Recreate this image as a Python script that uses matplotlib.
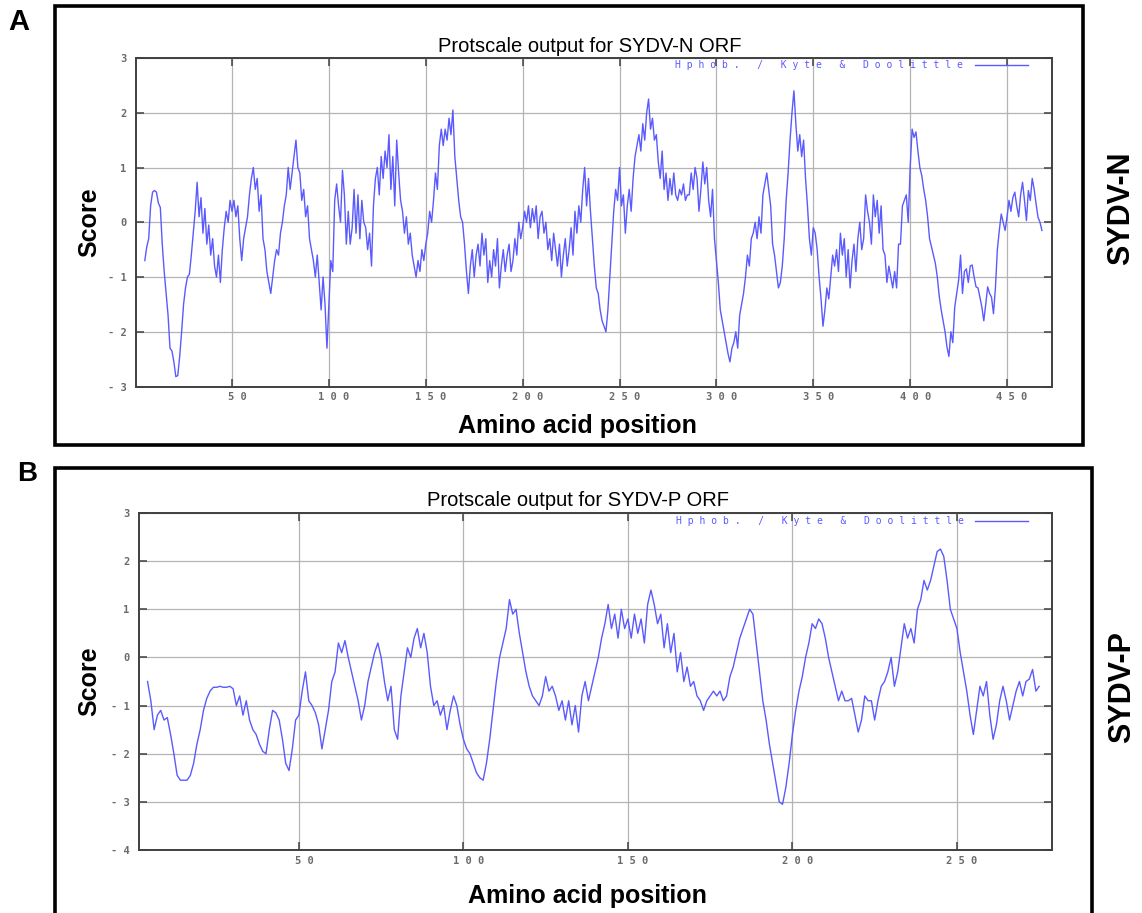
import numpy as np
import matplotlib
matplotlib.use("Agg")
import matplotlib.pyplot as plt
from matplotlib.patches import Rectangle
from matplotlib.lines import Line2D
from matplotlib.transforms import ScaledTranslation

# Kyte & Doolittle hydropathy, SYDV-N ORF (positions 5..468)
score_n = [
    -0.7, -0.45, -0.3, 0.3, 0.55,                                   # 5-9
    0.58, 0.55, 0.35, 0.27, -0.4, -0.9, -1.3, -1.7, -2.3, -2.35,     # 10-19
    -2.55, -2.82, -2.8, -2.45, -2.0, -1.5, -1.2, -1.0, -0.95, -0.6,  # 20-29
    -0.2, 0.2, 0.73, 0.1, 0.45, -0.2, 0.25, -0.4, -0.05, -0.6,       # 30-39
    -0.3, -0.8, -1.0, -0.6, -1.1, -0.5, -0.1, 0.2, 0.0, 0.4,         # 40-49
    0.2, 0.4, 0.1, 0.3, -0.3, -0.7, -0.3, -0.1, 0.1, 0.5,            # 50-59
    0.8, 1.0, 0.6, 0.8, 0.2, 0.5, -0.3, -0.5, -0.9, -1.1,            # 60-69
    -1.3, -1.0, -0.7, -0.5, -0.6, -0.2, 0.0, 0.3, 0.5, 1.0,          # 70-79
    0.6, 0.9, 1.2, 1.5, 1.0, 0.9, 0.4, 0.6, 0.1, 0.3,                # 80-89
    -0.3, -0.5, -0.7, -1.0, -0.6, -1.1, -1.6, -1.0, -1.5, -2.3,      # 90-99
    -1.5, -0.7, -0.9, 0.4, 0.7, 0.3, 0.0, 0.95, 0.5, -0.4,           # 100-109
    0.2, -0.4, -0.1, 0.6, -0.2, 0.5, -0.3, 0.4, 0.0, -0.1,           # 110-119
    -0.5, -0.2, -0.8, 0.3, 0.8, 1.0, 0.5, 1.2, 0.8, 1.3,             # 120-129
    1.0, 1.6, 0.6, 1.2, 0.3, 1.5, 0.9, 0.4, 0.2, -0.2,               # 130-139
    0.1, -0.4, -0.2, -0.6, -0.8, -1.0, -0.7, -0.9, -0.5, -0.7,       # 140-149
    -0.4, -0.2, 0.2, 0.0, 0.4, 0.9, 0.6, 1.4, 1.7, 1.4,              # 150-159
    1.7, 1.5, 1.9, 1.6, 2.05, 1.2, 0.8, 0.4, 0.1, 0.0,               # 160-169
    -0.4, -0.9, -1.3, -0.8, -0.5, -1.0, -0.6, -0.4, -0.8, -0.2,      # 170-179
    -0.6, -0.3, -1.1, -0.7, -1.0, -0.5, -0.8, -0.3, -1.2, -0.8,      # 180-189
    -0.5, -0.9, -0.6, -0.4, -0.9, -0.7, -0.3, -0.6, 0.0, -0.3,       # 190-199
    -0.1, 0.2, 0.0, 0.3, -0.1, 0.25, 0.0, 0.3, -0.3, 0.1,            # 200-209
    0.2, -0.2, 0.0, -0.5, -0.3, -0.7, -0.2, -0.5, -0.8, -0.4,        # 210-219
    -1.0, -0.6, -0.3, -0.8, -0.5, -0.1, -0.6, 0.2, -0.2, 0.3,        # 220-229
    0.0, 0.6, 1.0, 0.3, 0.8, 0.2, -0.3, -0.8, -1.2, -1.3,            # 230-239
    -1.6, -1.8, -1.9, -2.0, -1.6, -1.0, -0.4, 0.2, 0.6, 0.4,         # 240-249
    1.0, 0.3, 0.5, -0.2, 0.3, 0.6, 0.2, 0.8, 1.2, 1.4,               # 250-259
    1.6, 1.3, 1.8, 1.5, 2.0, 2.25, 1.7, 1.9, 1.5, 1.6,               # 260-269
    1.1, 0.8, 1.3, 0.6, 0.9, 0.4, 0.8, 0.5, 0.9, 0.5,                # 270-279
    0.4, 0.6, 0.5, 0.7, 0.4, 0.5, 0.5, 0.9, 0.6, 1.0,                # 280-289
    0.8, 0.2, 0.6, 1.1, 0.7, 1.0, 0.4, 0.1, 0.6, -0.3,               # 290-299
    -0.7, -1.1, -1.6, -1.8, -2.0, -2.2, -2.4, -2.55, -2.3, -2.2,     # 300-309
    -2.0, -2.3, -1.7, -1.5, -1.3, -1.0, -0.6, -0.8, -0.3, -0.2,      # 310-319
    0.0, -0.3, 0.1, -0.2, 0.5, 0.7, 0.9, 0.6, 0.3, -0.4,             # 320-329
    -0.6, -0.9, -1.2, -1.1, -0.8, -0.3, 0.4, 0.9, 1.5, 2.0,          # 330-339
    2.4, 1.8, 1.3, 1.6, 1.2, 1.5, 0.8, 0.3, -0.3, -0.6,              # 340-349
    -0.1, -0.2, -0.5, -1.0, -1.4, -1.9, -1.6, -1.2, -1.4, -1.0,      # 350-359
    -0.6, -0.8, -0.5, -0.9, -0.2, -0.6, -0.3, -1.0, -0.5, -1.2,      # 360-369
    -0.7, -0.4, -0.9, -0.3, 0.0, -0.5, -0.3, 0.5, 0.2, 0.0,          # 370-379
    -0.4, 0.5, 0.1, 0.4, -0.2, 0.3, -0.5, -0.6, -1.1, -0.8,          # 380-389
    -1.0, -1.2, -0.9, -1.2, -0.4, -0.4, 0.3, 0.4, 0.5, 0.0,          # 390-399
    1.0, 1.7, 1.55, 1.65, 1.3, 1.0, 0.85, 0.6, 0.4, 0.1,             # 400-409
    -0.3, -0.45, -0.6, -0.75, -1.0, -1.35, -1.6, -1.8, -2.0, -2.28,  # 410-419
    -2.45, -2.0, -2.2, -1.55, -1.3, -1.06, -0.6, -1.3, -0.9, -0.85,  # 420-429
    -1.1, -0.8, -0.78, -1.0, -1.18, -1.2, -1.37, -1.55, -1.8, -1.5,  # 430-439
    -1.18, -1.3, -1.37, -1.67, -1.2, -0.5, -0.15, 0.15, 0.0, -0.15,  # 440-449
    0.1, 0.4, 0.2, 0.45, 0.55, 0.3, 0.1, 0.5, 0.73, 0.4,             # 450-459
    0.03, 0.58, 0.4, 0.8, 0.6, 0.33, 0.09, 0.0, -0.15,               # 460-468
]

# Kyte & Doolittle hydropathy, SYDV-P ORF (positions 4..275)
score_p = [
    -0.5, -0.9, -1.5, -1.2, -1.1, -1.3,                              # 4-9
    -1.25, -1.6, -2.0, -2.45, -2.55, -2.55, -2.55, -2.45, -2.2, -1.8,  # 10-19
    -1.5, -1.1, -0.85, -0.7, -0.62, -0.62, -0.6, -0.62, -0.62, -0.6,   # 20-29
    -0.65, -1.0, -0.8, -1.2, -0.9, -1.3, -1.5, -1.6, -1.8, -1.95,      # 30-39
    -2.0, -1.5, -1.1, -1.15, -1.3, -1.7, -2.2, -2.35, -1.9, -1.3,      # 40-49
    -1.2, -0.7, -0.3, -0.9, -1.0, -1.15, -1.4, -1.9, -1.5, -1.1,       # 50-59
    -0.5, -0.3, 0.3, 0.1, 0.35, 0.0, -0.3, -0.6, -0.9, -1.3,           # 60-69
    -1.0, -0.5, -0.2, 0.1, 0.3, 0.0, -0.5, -0.9, -0.6, -1.5,           # 70-79
    -1.7, -0.8, -0.3, 0.2, 0.0, 0.4, 0.6, 0.2, 0.5, 0.1,               # 80-89
    -0.6, -1.0, -0.9, -1.2, -1.0, -1.5, -1.1, -0.8, -1.0, -1.4,        # 90-99
    -1.7, -1.9, -2.0, -2.2, -2.4, -2.5, -2.55, -2.2, -1.7, -1.1,       # 100-109
    -0.5, 0.0, 0.3, 0.6, 1.2, 0.9, 1.0, 0.5, 0.1, -0.3,                # 110-119
    -0.6, -0.8, -0.9, -1.0, -0.8, -0.4, -0.7, -0.6, -0.8, -1.1,        # 120-129
    -0.9, -1.3, -0.9, -1.4, -1.0, -1.55, -0.8, -0.5, -0.9, -0.6,       # 130-139
    -0.3, 0.0, 0.4, 0.7, 1.1, 0.6, 0.9, 0.4, 1.0, 0.6,                 # 140-149
    0.8, 0.4, 0.9, 0.5, 0.8, 0.3, 1.1, 1.4, 1.1, 0.7,                  # 150-159
    0.9, 0.2, 0.7, 0.1, 0.5, -0.3, 0.1, -0.5, -0.2, -0.6,              # 160-169
    -0.5, -0.8, -0.9, -1.1, -0.9, -0.8, -0.7, -0.8, -0.7, -0.9,        # 170-179
    -0.8, -0.4, -0.2, 0.1, 0.4, 0.6, 0.8, 1.0, 0.9, 0.3,               # 180-189
    -0.3, -0.9, -1.3, -1.8, -2.2, -2.6, -3.0, -3.05, -2.7, -2.2,       # 190-199
    -1.6, -1.1, -0.7, -0.4, 0.0, 0.3, 0.7, 0.6, 0.8, 0.7,              # 200-209
    0.4, 0.0, -0.3, -0.6, -0.9, -0.7, -0.9, -0.9, -0.85, -1.2,         # 210-219
    -1.55, -1.3, -0.8, -0.9, -0.9, -1.3, -0.9, -0.6, -0.5, -0.3,       # 220-229
    0.0, -0.6, -0.3, 0.2, 0.7, 0.4, 0.6, 0.3, 1.0, 1.2,                # 230-239
    1.6, 1.4, 1.6, 1.9, 2.2, 2.25, 2.1, 1.6, 1.0, 0.8,                 # 240-249
    0.6, 0.1, -0.3, -0.7, -1.2, -1.6, -1.1, -0.6, -0.8, -0.5,          # 250-259
    -1.2, -1.7, -1.4, -0.9, -0.6, -0.9, -1.3, -1.0, -0.7, -0.5,        # 260-269
    -0.8, -0.5, -0.45, -0.25, -0.7, -0.6,                              # 270-275
]
pos_n = np.arange(5, 5 + len(score_n))
pos_p = np.arange(4, 4 + len(score_p))

ticks_x_n = [50, 100, 150, 200, 250, 300, 350, 400, 450]
ticks_y_n = [-3, -2, -1, 0, 1, 2, 3]
ticks_x_p = [50, 100, 150, 200, 250]
ticks_y_p = [-4, -3, -2, -1, 0, 1, 2, 3]

W, H = 1142, 913
LINE = "#5a5aff"
LEGEND = "Hphob. / Kyte & Doolittle"


def fx(x):
    return x / W


def fy(y):
    return 1 - y / H


def spaced(s):
    return " ".join(str(s))


def draw_panel(ax, pos, score, xlim, ylim, xticks, yticks, leg_y):
    ax.plot(pos, score, color=LINE, lw=1.0)
    ax.set_xlim(*xlim)
    ax.set_ylim(*ylim)
    ax.set_xticks(xticks)
    ax.set_yticks(yticks)
    ax.set_xticklabels([spaced(t) for t in xticks])
    ax.set_yticklabels([spaced(t) for t in yticks])
    ax.grid(True, color="#b4b4b4", lw=0.9)
    ax.set_axisbelow(True)
    for sp in ax.spines.values():
        sp.set_color("#404040")
        sp.set_linewidth(1.4)
    ax.tick_params(axis="both", direction="in", length=6, width=1.1,
                   color="#404040", top=True, right=True,
                   labelsize=7.5, labelcolor="#6a6a6a")
    ax.tick_params(axis="y", pad=7)
    ax.tick_params(axis="x", pad=4)
    shift = ScaledTranslation(0.05, 0, fig.dpi_scale_trans)
    for lab in ax.get_xticklabels():
        lab.set_transform(lab.get_transform() + shift)
    for lab in ax.get_xticklabels() + ax.get_yticklabels():
        lab.set_family("DejaVu Sans Mono")
        lab.set_fontweight("bold")
    # legend drawn like the gnuplot key
    ax.text(0.903, leg_y, spaced(LEGEND), transform=ax.transAxes,
            ha="right", va="center", fontsize=7, color=LINE,
            family="DejaVu Sans Mono")
    ax.add_line(Line2D([0.916, 0.974], [leg_y, leg_y], transform=ax.transAxes,
                       color=LINE, lw=1.0))


fig = plt.figure(figsize=(W / 100, H / 100), dpi=100)

axA = fig.add_axes([fx(136), fy(386.5), (1052 - 136) / W, (386.5 - 58) / H])
draw_panel(axA, pos_n, score_n, (0.45, 473.2), (-3, 3),
           ticks_x_n, ticks_y_n, 0.979)

axB = fig.add_axes([fx(139), fy(850), (1052 - 139) / W, (850 - 513) / H])
draw_panel(axB, pos_p, score_p, (1.4, 278.9), (-4, 3),
           ticks_x_p, ticks_y_p, 0.976)

# panel frames
fig.add_artist(Rectangle((fx(55), fy(445)), (1083 - 55) / W, (445 - 6) / H,
                         transform=fig.transFigure, fill=False, lw=2.6,
                         edgecolor="black"))
fig.add_artist(Rectangle((fx(55), fy(920)), (1092 - 55) / W, (920 - 468) / H,
                         transform=fig.transFigure, fill=False, lw=2.6,
                         edgecolor="black", clip_on=False))

sans = "Liberation Sans"
fig.text(fx(590), fy(52), "Protscale output for SYDV-N ORF", ha="center",
         va="baseline", fontsize=14.5, family=sans)
fig.text(fx(578), fy(506), "Protscale output for SYDV-P ORF", ha="center",
         va="baseline", fontsize=14.5, family=sans)

fig.text(fx(577), fy(433), "Amino acid position", ha="center", va="baseline",
         fontsize=18, fontweight="bold", family=sans)
fig.text(fx(587), fy(903), "Amino acid position", ha="center", va="baseline",
         fontsize=18, fontweight="bold", family=sans)

fig.text(fx(89), fy(222), "Score", rotation=90, ha="center", va="center",
         fontsize=18, fontweight="bold", family=sans)
fig.text(fx(89), fy(681), "Score", rotation=90, ha="center", va="center",
         fontsize=18, fontweight="bold", family=sans)

fig.text(fx(1121), fy(208), "SYDV-N", rotation=90, ha="center", va="center",
         fontsize=22, fontweight="bold", family=sans)
fig.text(fx(1122), fy(687), "SYDV-P", rotation=90, ha="center", va="center",
         fontsize=22, fontweight="bold", family=sans)

fig.text(fx(19), fy(22), "A", ha="center", va="center", fontsize=21,
         fontweight="bold", family=sans)
fig.text(fx(27), fy(474), "B", ha="center", va="center", fontsize=20,
         fontweight="bold", family=sans)

fig.savefig("out.png", dpi=100)
